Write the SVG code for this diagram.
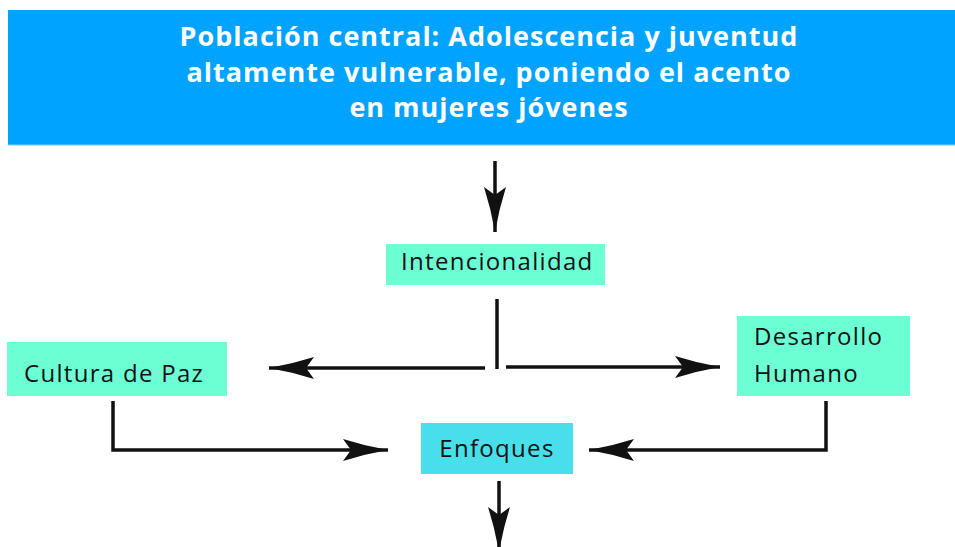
<svg xmlns="http://www.w3.org/2000/svg" width="955" height="547" viewBox="0 0 955 547">
<style>
.title{font-family:"Open Sans","Noto Sans",sans-serif;font-weight:700;font-size:27px;letter-spacing:1px;fill:#fff;text-anchor:middle}
.lbl{font-family:"Open Sans","Noto Sans",sans-serif;font-weight:500;font-size:24px;letter-spacing:1.3px;fill:#111}
.conn{stroke:#111;stroke-width:3.5;fill:none}
.mint{fill:#6dffd4}
.cyan{fill:#47dfea}
</style>
<defs>
<marker id="ah" markerUnits="userSpaceOnUse" markerWidth="50" markerHeight="26" viewBox="0 -13 50 26" refX="45" refY="0" orient="auto">
<path d="M0,-11 Q22,-4 45,0 Q22,4 0,11 L8,0 Z" fill="#111"/>
</marker>
</defs>
<g id="top">
<rect x="8" y="10" width="947" height="135" fill="#00a3ff"/>
<line x1="8" y1="145" x2="955" y2="145" stroke="#7fd0ff" stroke-width="1"/>
<text class="title" x="489" y="46">Población central: Adolescencia y juventud</text>
<text class="title" x="489" y="82">altamente vulnerable, poniendo el acento</text>
<text class="title" x="489" y="117">en mujeres jóvenes</text>
</g>
<g id="intencionalidad">
<rect class="mint" x="386" y="244" width="219" height="41"/>
<text class="lbl" x="401" y="270">Intencionalidad</text>
</g>
<g id="cultura">
<rect class="mint" x="7" y="342" width="220" height="54"/>
<text class="lbl" x="24" y="382">Cultura de Paz</text>
</g>
<g id="desarrollo">
<rect class="mint" x="737" y="316" width="173" height="80"/>
<text class="lbl" x="754" y="345">Desarrollo</text>
<text class="lbl" x="754" y="382">Humano</text>
</g>
<g id="enfoques">
<rect class="cyan" x="421" y="423" width="152" height="51"/>
<text class="lbl" x="497" y="457" text-anchor="middle">Enfoques</text>
</g>
<g id="connectors">
<line class="conn" x1="495" y1="161" x2="495" y2="232" marker-end="url(#ah)"/>
<line class="conn" x1="497" y1="299" x2="497" y2="369"/>
<line class="conn" x1="485" y1="368" x2="269" y2="368" marker-end="url(#ah)"/>
<line class="conn" x1="506" y1="367" x2="720" y2="367" marker-end="url(#ah)"/>
<polyline class="conn" points="113,401 113,450 388,450" marker-end="url(#ah)"/>
<polyline class="conn" points="826,401 826,450 589,450" marker-end="url(#ah)"/>
<line class="conn" x1="499" y1="481" x2="499" y2="552" marker-end="url(#ah)"/>
</g>
</svg>
